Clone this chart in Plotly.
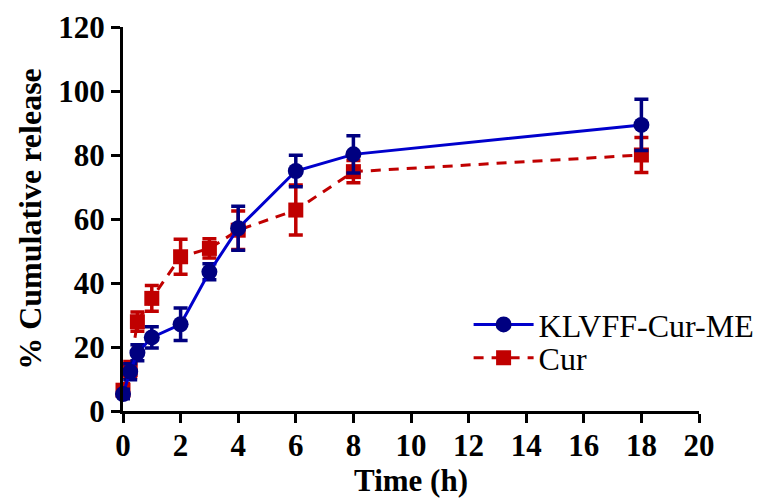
import plotly.graph_objects as go

time_klvff = [0, 0.25, 0.5, 1, 2, 3, 4, 6, 8, 18]
klvff_release = [5.3, 12.3, 18.2, 23.0, 27.1, 43.5, 57.1, 75.0, 80.2, 89.4]
klvff_err = [1.5, 2.5, 2.5, 3.3, 5.1, 2.5, 6.9, 4.9, 5.8, 8.0]

time_cur = [0, 0.25, 0.5, 1, 2, 3, 4, 6, 8, 18]
cur_release = [6.5, 13.0, 27.9, 35.2, 48.2, 50.8, 56.5, 62.8, 74.8, 80.0]
cur_err = [2.0, 2.5, 3.0, 4.0, 5.5, 3.0, 6.0, 7.8, 3.5, 5.5]

x_ticks = [0, 2, 4, 6, 8, 10, 12, 14, 16, 18, 20]
y_ticks = [0, 20, 40, 60, 80, 100, 120]

RED = "#c00000"
BLUE_LINE = "#0000cc"
BLUE_MARK = "#000080"
FONT = "Liberation Serif, Times New Roman, Times, serif"

fig = go.Figure()
fig.add_trace(go.Scatter(
    x=time_cur, y=cur_release, name="Cur", mode="lines+markers",
    line=dict(color=RED, width=3, dash="10px,8px"),
    marker=dict(symbol="square", size=15, color=RED),
    error_y=dict(type="data", array=cur_err, visible=True, color=RED, thickness=3.5, width=7),
    cliponaxis=False, legend="legend2",
))
fig.add_trace(go.Scatter(
    x=time_klvff, y=klvff_release, name="KLVFF-Cur-ME", mode="lines+markers",
    line=dict(color=BLUE_LINE, width=3),
    marker=dict(symbol="circle", size=16, color=BLUE_MARK),
    error_y=dict(type="data", array=klvff_err, visible=True, color=BLUE_MARK, thickness=3.5, width=7),
    cliponaxis=False, legend="legend",
))

leg_common = dict(xanchor="left", yanchor="middle",
                  font=dict(family=FONT, size=32, color="black"),
                  bgcolor="rgba(0,0,0,0)", itemwidth=60, tracegroupgap=0)

fig.update_layout(
    width=758, height=503,
    margin=dict(l=123, r=59, t=27, b=92, autoexpand=False),
    plot_bgcolor="white", paper_bgcolor="white",
    font=dict(family=FONT, color="black"),
    showlegend=True,
    legend=dict(x=0.6, y=0.225, **leg_common),
    legend2=dict(x=0.6, y=0.138, **leg_common),
    xaxis=dict(range=[0, 20], tickvals=x_ticks, ticktext=[f"<b>{v}</b>" for v in x_ticks],
               showgrid=False, zeroline=False, showline=True, linecolor="black", linewidth=3,
               ticks="outside", ticklen=9, tickwidth=3, tickcolor="black", automargin=True,
               ticklabelstandoff=-4,
               tickfont=dict(family=FONT, size=31, color="black"),
               title=dict(text="<b>Time (h)</b>", font=dict(family=FONT, size=31), standoff=4)),
    yaxis=dict(range=[0, 120], tickvals=y_ticks, ticktext=[f"<b>{v}</b>" for v in y_ticks],
               showgrid=False, zeroline=False, showline=True, linecolor="black", linewidth=3,
               ticks="outside", ticklen=9, tickwidth=3, tickcolor="black", automargin=False,
               tickfont=dict(family=FONT, size=31, color="black"),
               title=dict(text="<b>% Cumulative release</b>", font=dict(family=FONT, size=32), standoff=8)),
)

fig.write_html("out.html", config={"displayModeBar": False},
               post_script="document.body.style.margin='0';")
